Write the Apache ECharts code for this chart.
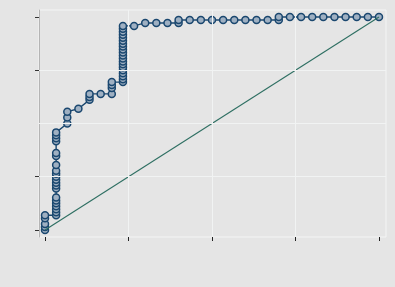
<!DOCTYPE html>
<html>
<head>
<meta charset="utf-8">
<script src="https://cdn.jsdelivr.net/npm/echarts@6/dist/echarts.min.js"></script>
<style>
html,body{margin:0;padding:0;background:#e5e5e5;}
#c{width:395px;height:287px;}
</style>
</head>
<body>
<div id="c"></div>
<script>
// 1 - specificity (false positive rate)
const fpr = [
  0, 0, 0, 0, 0,
  0.0333, 0.0333, 0.0333, 0.0333, 0.0333, 0.0333, 0.0333,
  0.0333, 0.0333, 0.0333, 0.0333, 0.0333, 0.0333, 0.0333,
  0.0333, 0.0333, 0.0333, 0.0333, 0.0333, 0.0333, 0.0333,
  0.0667, 0.0667, 0.0667,
  0.1,
  0.1333, 0.1333, 0.1333,
  0.1667,
  0.2, 0.2, 0.2, 0.2,
  0.2333, 0.2333, 0.2333, 0.2333, 0.2333, 0.2333, 0.2333, 0.2333, 0.2333, 0.2333,
  0.2333, 0.2333, 0.2333, 0.2333, 0.2333, 0.2333, 0.2333, 0.2333, 0.2333, 0.2333,
  0.2667,
  0.3, 0.3333, 0.3667,
  0.4, 0.4,
  0.4333, 0.4667, 0.5, 0.5333, 0.5667, 0.6, 0.6333, 0.6667,
  0.7, 0.7,
  0.7333, 0.7667, 0.8, 0.8333, 0.8667, 0.9, 0.9333, 0.9667, 1.0
];
// sensitivity (true positive rate)
const tpr = [
  0, 0.0139, 0.0278, 0.0556, 0.0694,
  0.0694, 0.0833, 0.0972, 0.1111, 0.125, 0.1389, 0.1528,
  0.1944, 0.2083, 0.2222, 0.2361, 0.25, 0.2639, 0.2778,
  0.3056, 0.3472, 0.3611, 0.4167, 0.4306, 0.4444, 0.4583,
  0.5, 0.5278, 0.5556,
  0.5694,
  0.6111, 0.625, 0.6389,
  0.6389,
  0.6389, 0.6667, 0.6806, 0.6944,
  0.6944, 0.7083, 0.7222, 0.7361, 0.75, 0.7639, 0.7778, 0.7917, 0.8056, 0.8194,
  0.8333, 0.8472, 0.8611, 0.875, 0.8889, 0.9028, 0.9167, 0.9306, 0.9444, 0.9583,
  0.9583,
  0.9722, 0.9722, 0.9722,
  0.9722, 0.9861,
  0.9861, 0.9861, 0.9861, 0.9861, 0.9861, 0.9861, 0.9861, 0.9861,
  0.9861, 1.0,
  1.0, 1.0, 1.0, 1.0, 1.0, 1.0, 1.0, 1.0, 1.0
];
const refX = [0, 1];
const refY = [0, 1];
const xTicks = [0, 0.25, 0.5, 0.75, 1];
const yTicks = [0, 0.25, 0.75, 1];
const xGrid = [0.25, 0.5, 0.75];
const yGrid = [0.25, 0.5, 0.75];

const chart = echarts.init(document.getElementById('c'), null, {renderer: 'canvas'});
const gridColor = '#f1f3f3';
chart.setOption({
  backgroundColor: '#e5e5e5',
  animation: false,
  grid: {
    left: 39, right: 9, top: 10, bottom: 50,
    show: true, backgroundColor: '#e5e5e5', borderColor: '#f4f5f5', borderWidth: 1
  },
  xAxis: {
    type: 'value', min: -0.018, max: 1.021,
    axisLine: {show: false, onZero: false},
    axisTick: {show: true, inside: false, length: 4, customValues: xTicks, lineStyle: {color: '#222', width: 1}},
    axisLabel: {show: false},
    splitLine: {show: false}
  },
  yAxis: {
    type: 'value', min: -0.033, max: 1.033,
    axisLine: {show: true, onZero: false, lineStyle: {color: '#b4b4b4', width: 1}},
    axisTick: {show: true, inside: false, length: 4, customValues: yTicks, lineStyle: {color: '#333', width: 1}},
    axisLabel: {show: false},
    splitLine: {show: false}
  },
  series: [
    {
      type: 'line',
      data: [],
      silent: true,
      markLine: {
        silent: true, symbol: 'none', label: {show: false},
        lineStyle: {color: gridColor, width: 1, type: 'solid'},
        data: xGrid.map(v => ({xAxis: v})).concat(yGrid.map(v => ({yAxis: v})))
      }
    },
    {
      type: 'line',
      data: fpr.map((x, i) => [x, tpr[i]]),
      symbol: 'circle',
      symbolSize: 7,
      showSymbol: true,
      showAllSymbol: true,
      lineStyle: {color: '#1a476f', width: 1.4},
      itemStyle: {color: '#9fb0c2', borderColor: '#1a476f', borderWidth: 1.5},
      z: 3
    },
    {
      type: 'line',
      data: refX.map((x, i) => [x, refY[i]]),
      symbol: 'none',
      lineStyle: {color: '#2e6f62', width: 1.1},
      z: 4
    }
  ]
});
</script>
</body>
</html>
